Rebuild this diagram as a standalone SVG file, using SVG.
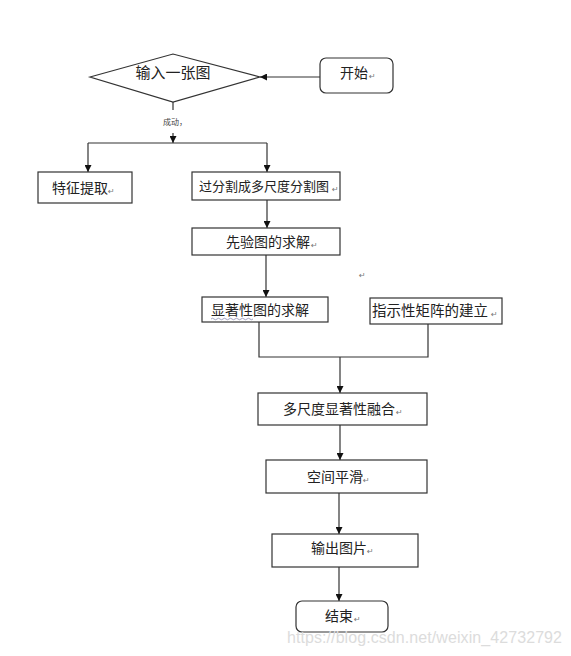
<svg xmlns="http://www.w3.org/2000/svg" width="571" height="656" viewBox="0 0 571 656">
<style>
.box{fill:#fff;stroke:#333;stroke-width:1.2}
.t{font-family:"Noto Sans CJK SC","Liberation Sans",sans-serif;font-size:14px;fill:#222}
.r{font-family:"DejaVu Sans",sans-serif;font-size:8px;fill:#777}
.ln{fill:none;stroke:#333;stroke-width:1.2}
</style>
<defs>
<marker id="ah" viewBox="0 0 10 10" refX="10" refY="5" markerWidth="7" markerHeight="7" markerUnits="userSpaceOnUse" orient="auto">
<path d="M0,0 L10,5 L0,10 z" fill="#111"/>
</marker>
</defs>
<rect width="571" height="656" fill="#fff"/>
<g id="connectors">
<path class="ln" d="M320,77 L260,77" marker-end="url(#ah)"/>
<path class="ln" d="M173,102 L173,110"/>
<path class="ln" d="M173,133 L173,143" marker-end="url(#ah)"/>
<path class="ln" d="M88,143 L267,143"/>
<path class="ln" d="M88,143 L88,172" marker-end="url(#ah)"/>
<path class="ln" d="M267,143 L267,172" marker-end="url(#ah)"/>
<path class="ln" d="M267,200 L267,228" marker-end="url(#ah)"/>
<path class="ln" d="M266,255 L266,297" marker-end="url(#ah)"/>
<path class="ln" d="M259,322 L259,357 L428,357 L428,324"/>
<path class="ln" d="M340,357 L340,393" marker-end="url(#ah)"/>
<path class="ln" d="M340,425 L340,460" marker-end="url(#ah)"/>
<path class="ln" d="M339,493 L339,534" marker-end="url(#ah)"/>
<path class="ln" d="M339,567 L339,601" marker-end="url(#ah)"/>
<text x="163" y="125" style="font-family:'Noto Sans CJK SC',sans-serif;font-size:8px;fill:#444">成动，</text>
</g>
<g id="n-input">
<polygon class="box" points="90,77 173,54 260,77 173,102"/>
<text class="t" x="173" y="78" text-anchor="middle" style="font-size:15px">输入一张图</text>
</g>
<g id="n-start">
<rect class="box" x="320" y="58" width="73" height="35" rx="6"/>
<text class="t" x="340" y="78">开始</text><text class="r" x="369" y="79">↵</text>
</g>
<g id="n-feature">
<rect class="box" x="38" y="172" width="94" height="31"/>
<text class="t" x="52" y="193">特征提取</text><text class="r" x="108" y="194">↵</text>
</g>
<g id="n-seg">
<rect class="box" x="192" y="172" width="148" height="28"/>
<text class="t" x="199" y="191" style="font-size:13px">过分割成多尺度分割图</text><text class="r" x="332" y="192">↵</text>
</g>
<g id="n-prior">
<rect class="box" x="192" y="228" width="148" height="27"/>
<text class="t" x="226" y="247">先验图的求解</text><text class="r" x="311" y="248">↵</text>
</g>
<text class="r" x="359" y="278">↵</text>
<g id="n-saliency">
<rect class="box" x="202" y="297" width="126" height="25"/>
<text class="t" x="211" y="315">显著性图的求解</text>
<path d="M211,319 q1.5,-1.5 3,0 t3,0 t3,0 t3,0 t3,0 t3,0 t3,0 t3,0 t3,0 t3,0 t3,0 t3,0 t3,0 t3,0" fill="none" stroke="#8a8ab0" stroke-width="0.8"/>
</g>
<g id="n-indicator">
<rect class="box" x="370" y="298" width="132" height="26"/>
<text class="t" x="372" y="316" style="font-size:14.5px">指示性矩阵的建立</text><text class="r" x="491" y="317">↵</text>
</g>
<g id="n-fusion">
<rect class="box" x="258" y="393" width="169" height="32"/>
<text class="t" x="283" y="414">多尺度显著性融合</text><text class="r" x="396" y="415">↵</text>
</g>
<g id="n-smooth">
<rect class="box" x="266" y="460" width="161" height="33"/>
<text class="t" x="307" y="482">空间平滑</text><text class="r" x="363" y="483">↵</text>
</g>
<g id="n-output">
<rect class="box" x="272" y="534" width="146" height="33"/>
<text class="t" x="311" y="553">输出图片</text><text class="r" x="367" y="554">↵</text>
</g>
<g id="n-end">
<rect class="box" x="296" y="601" width="92" height="31" rx="6"/>
<text class="t" x="325" y="621">结束</text><text class="r" x="354" y="622">↵</text>
</g>
<text x="287" y="643" textLength="275" style="font-family:'Liberation Sans',sans-serif;font-size:16px;fill:#dcdcdc">https://blog.csdn.net/weixin_42732792</text>
</svg>
